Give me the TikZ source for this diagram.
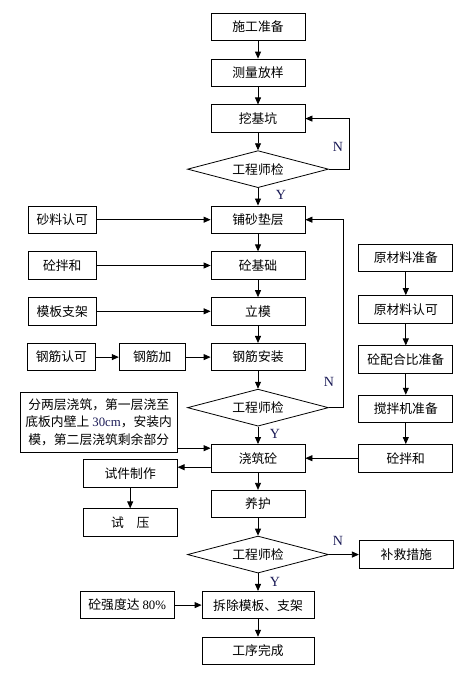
\documentclass[tikz,border=0pt]{standalone}
\usepackage{fontspec}
\setmainfont{Liberation Serif}
\newfontfamily\cjk{Noto Sans CJK SC}
\usepackage{xcolor}
\usepackage{tikz}
\usetikzlibrary{shapes.geometric,arrows.meta,positioning}
\definecolor{ynblue}{RGB}{25,25,85}

\begin{document}
\begin{tikzpicture}[x=1pt, y=-1pt, node distance=17.5pt,
    sbox/.style={rectangle, draw, line width=0.8pt, minimum width=94pt, minimum height=27.5pt, inner sep=2pt, font=\cjk\fontsize{12.8}{15}\selectfont},
    lbox/.style={sbox, minimum width=68pt},
    cbox/.style={diamond, draw, line width=0.8pt, aspect=3.8, minimum width=141pt, minimum height=37pt, inner sep=0pt, font=\cjk\fontsize{12.8}{15}\selectfont},
    yn/.style={font=\fontsize{14}{16}\selectfont, text=ynblue, inner sep=0pt},
    arr/.style={-{Triangle[length=7pt,width=6pt]}, line width=0.8pt}]

    \useasboundingbox (0,0) rectangle (476,682);

    % main column
    \node[sbox] (s1) at (258,27) {施工准备};
    \node[sbox, below=of s1] (s2) {测量放样};
    \node[sbox, below=of s2] (s3) {挖基坑};
    \node[cbox, below=of s3] (c1) {工程师检};
    \node[sbox, below=of c1] (s4) {铺砂垫层};
    \node[sbox, below=of s4] (s5) {砼基础};
    \node[sbox, below=of s5] (s6) {立模};
    \node[sbox, below=of s6] (s7) {钢筋安装};
    \node[cbox, below=of s7] (c2) {工程师检};
    \node[sbox, below=of c2] (s8) {浇筑砼};
    \node[sbox, below=of s8] (s9) {养护};
    \node[cbox, below=of s9] (c3) {工程师检};
    \node[sbox, below=of c3, minimum width=112pt] (s10) {拆除模板、支架};
    \node[sbox, below=of s10, minimum width=112pt] (s11) {工序完成};

    % left side
    \node[lbox, left=114pt of s4] (l1) {砂料认可};
    \node[lbox, left=114pt of s5] (l2) {砼拌和};
    \node[lbox, left=114pt of s6] (l3) {模板支架};
    \node[sbox, minimum width=66pt, left=25pt of s7] (l5) {钢筋加};
    \node[lbox, left=23pt of l5] (l4) {钢筋认可};
    \node[sbox, left=33pt of s8, yshift=36pt, minimum width=157pt, minimum height=60pt, align=center,
        font=\cjk\fontsize{12.8}{17.5}\selectfont] (note)
        {分两层浇筑，第一层浇至\\底板内壁上\hspace{3pt}{\rmfamily\color{ynblue}30cm}，安装内\\模，第二层浇筑剩余部分};
    \node[sbox, left=33pt of s8, yshift=-15pt] (t1) {试件制作};
    \node[sbox, below=21pt of t1] (t2) {试\hspace{1em}压};
    \node[sbox, left=27pt of s10] (l6) {砼强度达 {\rmfamily 80\%}};

    % right side
    \node[sbox, right=53pt of s8] (r5) {砼拌和};
    \node[sbox, above=21pt of r5] (r4) {搅拌机准备};
    \node[sbox, above=21pt of r4] (r3) {砼配合比准备};
    \node[sbox, above=22pt of r3] (r2) {原材料认可};
    \node[sbox, above=23pt of r2] (r1) {原材料准备};
    \node[sbox, right=30pt of c3] (r6) {补救措施};

    % labels
    \node[yn] (n1) at ([xshift=9pt,yshift=22pt]c1.east) {N};
    \node[yn] (y1) at ([xshift=23pt,yshift=-7pt]c1.south) {Y};
    \node[yn] (n2) at ([xshift=0pt,yshift=26pt]c2.east) {N};
    \node[yn] (y2) at ([xshift=17pt,yshift=-7pt]c2.south) {Y};
    \node[yn] (n3) at ([xshift=9pt,yshift=14pt]c3.east) {N};
    \node[yn] (y3) at ([xshift=17pt,yshift=-8pt]c3.south) {Y};

    % connectors
    \draw[arr] (s1) -- (s2);
    \draw[arr] (s2) -- (s3);
    \draw[arr] (s3) -- (c1);
    \draw[arr] (c1) -- (s4);
    \draw[arr] (s4) -- (s5);
    \draw[arr] (s5) -- (s6);
    \draw[arr] (s6) -- (s7);
    \draw[arr] (s7) -- (c2);
    \draw[arr] (c2) -- (s8);
    \draw[arr] (s8) -- (s9);
    \draw[arr] (s9) -- (c3);
    \draw[arr] (c3) -- (s10);
    \draw[arr] (s10) -- (s11);

    \draw[arr] (c1.east) -- ++(20,0) |- (s3.east);
    \draw[arr] (c2.east) -- ++(14,0) |- (s4.east);

    \draw[arr] (l1) -- (s4);
    \draw[arr] (l2) -- (s5);
    \draw[arr] (l3) -- (s6);
    \draw[arr] (l4) -- (l5);
    \draw[arr] (l5) -- (s7);
    \coordinate (p1) at ([yshift=10pt]s8.west);
    \coordinate (p2) at ([yshift=-9pt]s8.west);
    \draw[arr] (note.east |- p1) -- (p1);
    \draw[arr] (p2) -- (t1.east |- p2);
    \draw[arr] (t1) -- (t2);
    \draw[arr] (l6) -- (s10);

    \draw[arr] (r1) -- (r2);
    \draw[arr] (r2) -- (r3);
    \draw[arr] (r3) -- (r4);
    \draw[arr] (r4) -- (r5);
    \draw[arr] (r5) -- (s8);
    \draw[arr] (c3) -- (r6);

\end{tikzpicture}
\end{document}
